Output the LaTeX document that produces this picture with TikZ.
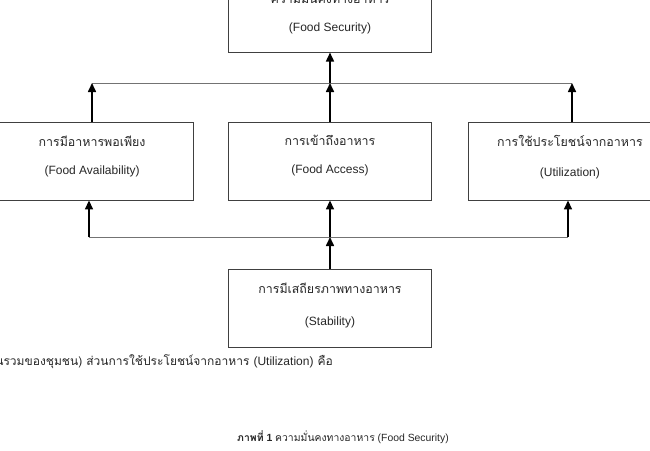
\documentclass[tikz,border=0pt]{standalone}
\usepackage{fontspec}
\setmainfont{Liberation Sans}
\newfontfamily\thai[Script=Thai]{Loma}
\usetikzlibrary{arrows.meta}
\usetikzlibrary{positioning}

\begin{document}
\begin{tikzpicture}[x=1pt,y=-1pt,
  box/.style={draw=black!75,line width=0.9pt,minimum width=203pt,minimum height=78pt,inner sep=0pt},
  txt/.style={align=center,font=\fontsize{12}{14}\selectfont,text=black!85,inner sep=0pt},
  link/.style={draw=black!55,line width=0.8pt},
  arr/.style={line width=1.6pt,-{Triangle[length=9pt,width=8pt]}}]
\useasboundingbox (0,0) rectangle (650,450);
\clip (0,0) rectangle (650,450);

% boxes
\node[box] (access) at (330,161) {};
\node[box,above=69pt of access] (secure) {};
\node[box,left=34pt of access] (avail) {};
\node[box,right=36pt of access] (util) {};
\node[box,below=69pt of access] (stab) {};

\node[txt] (secureT) at ([yshift=1pt]secure.center) {{\thai\fontsize{12.4}{14}\selectfont ความมั่นคงทางอาหาร}\\[14pt](Food Security)};
\node[txt] (availT) at ([yshift=5pt]avail.center) {{\thai\fontsize{12.4}{14}\selectfont การมีอาหารพอเพียง}\\[14pt](Food Availability)};
\node[txt] (accessT) at ([yshift=5pt]access.center) {{\thai\fontsize{12.4}{14}\selectfont การเข้าถึงอาหาร}\\[14pt](Food Access)};
\node[txt] (utilT) at ([yshift=4pt]util.center) {{\thai\fontsize{12.4}{14}\selectfont การใช้ประโยชน์จากอาหาร}\\[16pt](Utilization)};
\node[txt] (stabT) at ([yshift=3pt]stab.center) {{\thai\fontsize{12.4}{14}\selectfont การมีเสถียรภาพทางอาหาร}\\[18pt](Stability)};

% junctions
\coordinate (tl) at (92,83);
\coordinate (tr) at (572,83);
\coordinate (tc) at (330,83);
\coordinate (bl) at (89,237);
\coordinate (br) at (568,237);
\coordinate (bc) at (330,237);

\draw[link] (tl) -- (tr);
\draw[link] (bl) -- (br);
\draw[arr] (avail.north -| tl) -- (tl);
\draw[arr] (util.north -| tr) -- (tr);
\draw[arr] (access.north) -- (tc);
\draw[arr] (tc) -- (secure.south);
\draw[arr] (bl) -- (avail.south -| bl);
\draw[arr] (br) -- (util.south -| br);
\draw[arr] (stab.north) -- (bc);
\draw[arr] (bc) -- (access.south);

% text below
\node[anchor=east,font=\fontsize{12}{14}\selectfont,text=black!85,inner sep=0pt] (body) at (333,362)
  {{\thai ส่วนรวมของชุมชน) ส่วนการใช้ประโยชน์จากอาหาร }(Utilization){\thai\ คือ}};
\node[font=\fontsize{10.4}{12}\selectfont,text=black!85,inner sep=0pt] (caption) at (343,437)
  {{\bfseries{\thai ภาพที่} 1} {\thai ความมั่นคงทางอาหาร} (Food Security)};
\end{tikzpicture}
\end{document}
